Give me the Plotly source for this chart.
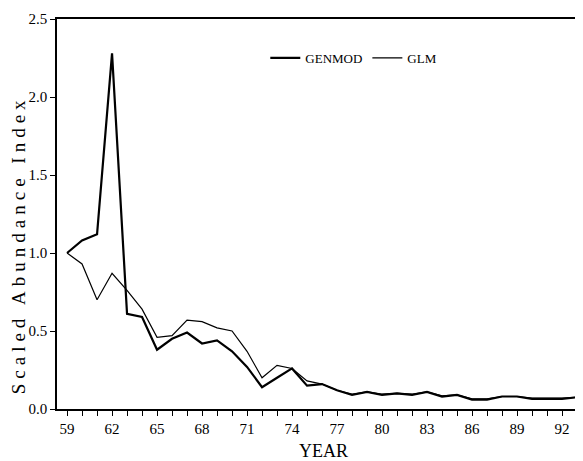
import plotly.graph_objects as go

years = list(range(59, 94))
genmod = [1.00, 1.08, 1.12, 2.28, 0.61, 0.59, 0.38, 0.45, 0.49, 0.42,
          0.44, 0.37, 0.27, 0.14, 0.20, 0.26, 0.15, 0.16, 0.12, 0.09,
          0.11, 0.09, 0.10, 0.09, 0.11, 0.08, 0.09, 0.06, 0.06, 0.08,
          0.08, 0.065, 0.065, 0.065, 0.075]
glm = [1.00, 0.93, 0.70, 0.87, 0.76, 0.64, 0.46, 0.47, 0.57, 0.56,
       0.52, 0.50, 0.37, 0.20, 0.28, 0.26, 0.18, 0.16, 0.12, 0.095,
       0.11, 0.095, 0.10, 0.095, 0.11, 0.085, 0.09, 0.065, 0.065, 0.08,
       0.08, 0.07, 0.07, 0.07, 0.075]
xtick_vals = [59, 62, 65, 68, 71, 74, 77, 80, 83, 86, 89, 92]
ytick_vals = [0.0, 0.5, 1.0, 1.5, 2.0, 2.5]

SERIF = "Liberation Serif, Times New Roman, serif"

fig = go.Figure()
fig.add_trace(go.Scatter(x=years, y=genmod, mode="lines", name="GENMOD",
                         line=dict(color="black", width=2.2)))
fig.add_trace(go.Scatter(x=years, y=glm, mode="lines", name="GLM",
                         line=dict(color="black", width=1.2)))

# page body has an 8px default margin: shift the plot area to compensate
fig.update_layout(
    width=583, height=461,
    margin=dict(l=49, r=8, t=11, b=60, autoexpand=False),
    paper_bgcolor="white", plot_bgcolor="white",
    font=dict(family=SERIF, color="black", size=15),
    showlegend=True,
    legend=dict(orientation="h", x=0.396, y=0.9, xanchor="left", yanchor="middle",
                font=dict(family=SERIF, size=13, color="black"),
                bgcolor="rgba(0,0,0,0)", itemwidth=30),
    xaxis=dict(range=[58.33, 93.4], tickvals=xtick_vals,
               ticktext=[str(v) for v in xtick_vals],
               ticks="outside", ticklen=5, tickwidth=1.2, tickcolor="black",
               minor=dict(dtick=1, tick0=59, ticks="outside", ticklen=5,
                          tickwidth=1, tickcolor="black"),
               showline=True, linecolor="black", linewidth=1.5, mirror=True,
               showgrid=False, zeroline=False, automargin=False,
               tickfont=dict(family=SERIF, size=15)),
    yaxis=dict(range=[0, 2.5], tickvals=ytick_vals, tickformat=".1f",
               ticks="outside", ticklen=5, tickwidth=1.2, tickcolor="black",
               showline=True, linecolor="black", linewidth=1.5,
               showgrid=False, zeroline=False, automargin=False,
               tickfont=dict(family=SERIF, size=15)),
)

fig.add_annotation(
    text='<span style="letter-spacing:5px">Scaled Abundance Index</span>',
    xref="paper", yref="paper", x=-0.074, y=0.42,
    xanchor="center", yanchor="middle", textangle=-90, showarrow=False,
    font=dict(family=SERIF, size=19, color="black"))

fig.add_annotation(
    text="YEAR", xref="paper", yref="paper", x=0.506, y=-0.108,
    xanchor="center", yanchor="middle", showarrow=False,
    font=dict(family=SERIF, size=18, color="black"))

fig.write_html("out.html")
